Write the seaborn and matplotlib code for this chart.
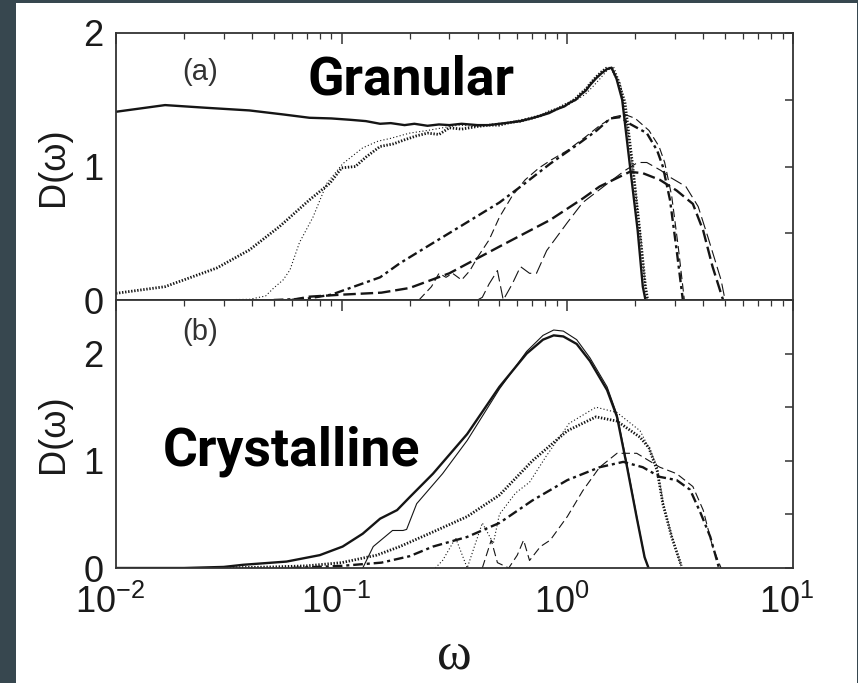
import matplotlib
matplotlib.use("Agg")
import matplotlib.pyplot as plt
from matplotlib.patches import Rectangle
from matplotlib.ticker import FixedLocator, FixedFormatter
from matplotlib.transforms import ScaledTranslation
import seaborn as sns

# ---------------- data: D(omega) curves ----------------
# (a) granular packing
g_solid_w = [0.010, 0.0165, 0.025, 0.039, 0.055, 0.072, 0.090, 0.109, 0.128, 0.148, 0.165, 0.19, 0.21,
             0.24, 0.27, 0.30, 0.34, 0.40, 0.45, 0.50, 0.56, 0.62, 0.69, 0.76, 0.83, 0.90, 0.97, 1.03,
             1.09, 1.15, 1.21, 1.26, 1.34, 1.42, 1.50, 1.57, 1.65, 1.75, 1.89, 2.05, 2.16, 2.22]
g_solid_d = [1.41, 1.46, 1.44, 1.42, 1.39, 1.365, 1.36, 1.35, 1.34, 1.32, 1.325, 1.31, 1.32,
             1.305, 1.315, 1.31, 1.32, 1.31, 1.31, 1.32, 1.33, 1.34, 1.36, 1.38, 1.40, 1.43, 1.45, 1.48,
             1.50, 1.54, 1.57, 1.61, 1.66, 1.70, 1.73, 1.74, 1.66, 1.50, 1.02, 0.52, 0.10, 0.0]

g_dot_w = [0.010, 0.0165, 0.028, 0.039, 0.053, 0.072, 0.0887, 0.100, 0.115, 0.128, 0.148, 0.17, 0.19,
           0.215, 0.24, 0.27, 0.30, 0.34, 0.40, 0.45, 0.50, 0.56, 0.62, 0.69, 0.76, 0.83, 0.90, 0.97,
           1.03, 1.09, 1.15, 1.21, 1.26, 1.34, 1.42, 1.50, 1.58, 1.68, 1.80, 1.95, 2.10, 2.22, 2.27]
g_dot_d = [0.05, 0.10, 0.24, 0.375, 0.55, 0.75, 0.875, 0.99, 1.0, 1.07, 1.15, 1.17, 1.20,
           1.23, 1.25, 1.24, 1.29, 1.28, 1.30, 1.31, 1.31, 1.33, 1.34, 1.36, 1.38, 1.41, 1.43, 1.46,
           1.48, 1.51, 1.55, 1.58, 1.62, 1.67, 1.71, 1.74, 1.73, 1.64, 1.48, 1.0, 0.5, 0.1, 0.0]

g_dott_w = [0.025, 0.039, 0.046, 0.050, 0.055, 0.059, 0.065, 0.0746, 0.086, 0.101, 0.124, 0.145, 0.164,
            0.20, 0.24, 0.28, 0.33, 0.40, 0.47, 0.55, 0.62, 0.70, 0.80, 0.90, 1.0, 1.1, 1.2, 1.3, 1.4,
            1.5, 1.6, 1.72, 1.84, 1.98, 2.12, 2.22, 2.27]
g_dott_d = [0.0, 0.005, 0.03, 0.09, 0.15, 0.225, 0.43, 0.62, 0.875, 1.02, 1.14, 1.19, 1.21,
            1.25, 1.27, 1.29, 1.31, 1.30, 1.32, 1.33, 1.35, 1.37, 1.40, 1.43, 1.46, 1.50, 1.54, 1.60, 1.66,
            1.72, 1.75, 1.62, 1.30, 0.90, 0.45, 0.08, 0.0]

g_dd_w = [0.05, 0.07, 0.09, 0.109, 0.148, 0.181, 0.25, 0.35, 0.50, 0.65, 0.838, 1.1, 1.35, 1.55, 1.72,
          1.89, 2.25, 2.5, 2.65, 2.85, 3.05, 3.25]
g_dd_d = [0.0, 0.01, 0.04, 0.09, 0.17, 0.275, 0.42, 0.57, 0.73, 0.875, 1.02, 1.16, 1.27, 1.36, 1.37,
          1.32, 1.25, 1.12, 1.0, 0.75, 0.375, 0.0]

g_ddt_w = [0.22, 0.25, 0.27, 0.29, 0.31, 0.34, 0.37, 0.40, 0.45, 0.50, 0.57, 0.65, 0.75, 0.85, 1.0,
           1.2, 1.4, 1.6, 1.8, 2.0, 2.3, 2.55, 2.7, 2.9, 3.1, 3.3]
g_ddt_d = [0.0, 0.1, 0.2, 0.17, 0.2, 0.15, 0.22, 0.32, 0.45, 0.62, 0.78, 0.9, 0.99, 1.05, 1.12,
           1.22, 1.31, 1.37, 1.39, 1.36, 1.27, 1.15, 1.03, 0.78, 0.4, 0.0]

g_ld_w = [0.06, 0.072, 0.1, 0.15, 0.20, 0.30, 0.50, 0.84, 1.17, 1.39, 1.89, 2.16, 2.57, 3.05, 3.6,
          4.0, 4.4, 4.9]
g_ld_d = [0.0, 0.025, 0.04, 0.055, 0.09, 0.2, 0.40, 0.6, 0.76, 0.85, 0.96, 0.95, 0.90, 0.82, 0.72,
          0.52, 0.25, 0.0]

g_ldt_w = [0.40, 0.42, 0.45, 0.49, 0.52, 0.57, 0.62, 0.68, 0.73, 0.81, 1.0, 1.17, 1.5, 1.8, 2.05,
           2.25, 2.6, 2.85, 3.35, 3.8, 4.2, 4.8, 5.0]
g_ldt_d = [0.0, 0.02, 0.12, 0.22, 0.0, 0.12, 0.25, 0.2, 0.2, 0.37, 0.58, 0.73, 0.87, 0.97, 1.03,
           1.03, 0.97, 0.92, 0.85, 0.70, 0.47, 0.15, 0.0]

# (b) crystalline packing
c_solid_w = [0.01, 0.02, 0.03, 0.0366, 0.057, 0.08, 0.101, 0.124, 0.148, 0.176, 0.20, 0.254, 0.36,
             0.50, 0.66, 0.78, 0.87, 0.96, 1.10, 1.26, 1.50, 1.66, 1.84, 2.03, 2.20, 2.29]
c_solid_d = [0.0, 0.0, 0.01, 0.03, 0.06, 0.12, 0.2, 0.32, 0.46, 0.54, 0.66, 0.88, 1.25,
             1.69, 2.0, 2.13, 2.17, 2.16, 2.09, 1.93, 1.66, 1.41, 0.94, 0.47, 0.1, 0.0]

c_solidt_w = [0.124, 0.138, 0.168, 0.187, 0.194, 0.215, 0.28, 0.36, 0.50, 0.66, 0.78, 0.87, 0.96,
              1.10, 1.26, 1.50, 1.66, 1.84, 2.03, 2.20, 2.29]
c_solidt_d = [0.0, 0.2, 0.35, 0.35, 0.36, 0.6, 0.88, 1.19, 1.67, 2.02, 2.17, 2.22, 2.21,
              2.13, 1.96, 1.69, 1.43, 0.96, 0.48, 0.1, 0.0]

c_dot_w = [0.03, 0.05, 0.07, 0.10, 0.143, 0.181, 0.25, 0.36, 0.50, 0.70, 1.0, 1.34, 1.66, 2.1,
           2.3, 2.5, 2.65, 2.9, 3.2]
c_dot_d = [0.0, 0.01, 0.02, 0.05, 0.12, 0.2, 0.33, 0.48, 0.68, 1.0, 1.28, 1.41, 1.37, 1.22,
           1.12, 0.91, 0.6, 0.29, 0.02]

c_dott_w = [0.26, 0.28, 0.32, 0.36, 0.42, 0.47, 0.50, 0.59, 0.68, 0.81, 1.02, 1.34, 1.66, 2.1,
            2.3, 2.5, 2.65, 2.9, 3.2]
c_dott_d = [0.0, 0.07, 0.28, 0.0, 0.42, 0.23, 0.5, 0.7, 0.8, 1.05, 1.35, 1.5, 1.45, 1.28,
            1.12, 0.95, 0.62, 0.3, 0.02]

c_dd_w = [0.06, 0.1, 0.15, 0.2, 0.254, 0.36, 0.50, 0.70, 1.0, 1.39, 1.77, 2.16, 2.57, 3.05, 3.5,
          3.9, 4.3, 4.7]
c_dd_d = [0.0, 0.02, 0.05, 0.11, 0.2, 0.29, 0.42, 0.63, 0.82, 0.94, 0.99, 0.94, 0.85, 0.82, 0.73,
          0.51, 0.29, 0.0]

c_ddt_w = [0.42, 0.46, 0.49, 0.55, 0.60, 0.64, 0.68, 0.76, 0.84, 1.0, 1.17, 1.39, 1.66, 2.03,
           2.57, 3.05, 3.6, 4.0, 4.4, 4.8]
c_ddt_d = [0.0, 0.26, 0.05, 0.0, 0.12, 0.26, 0.07, 0.2, 0.26, 0.48, 0.72, 0.94, 1.07, 1.07,
           0.94, 0.88, 0.76, 0.54, 0.2, 0.0]

x_ticks = [1e-2, 1e-1, 1e0, 1e1]
y_ticks_a = [0, 0.5, 1, 1.5, 2]
y_labels_a = ["0", "", "1", "", "2"]
y_ticks_b = [0, 0.5, 1, 1.5, 2, 2.5]
y_labels_b = ["0", "", "1", "", "2", ""]

# ---------------- styling ----------------
sns.set_theme(style="white")
plt.rcParams["font.family"] = ["Liberation Sans", "DejaVu Sans"]
plt.rcParams["lines.scale_dashes"] = False
plt.rcParams["axes.linewidth"] = 1.3
plt.rcParams["axes.edgecolor"] = "#333333"

INK = "#151515"
THICK, THIN = 1.7, 0.8
SOLID = "-"
DOT_THICK = (0, (1.0, 1.2))
DOT_THIN = (0, (0.8, 1.6))
DASHDOT = (0, (7.0, 2.8, 2.2, 2.8))
DASHDOT_THIN = (0, (6.0, 3.0))
LONGDASH = (0, (9.0, 3.5))
TICK_FS = 26

fig = plt.figure(figsize=(8.58, 6.83), dpi=100)
fig.patch.set_facecolor("#37474f")
fig.add_artist(Rectangle((16 / 858, 0), 841 / 858, 680 / 683, transform=fig.transFigure,
                         facecolor="white", edgecolor="none", zorder=-5))

L, W = 116 / 858, 677 / 858
ax_a = fig.add_axes([L, 383 / 683, W, 267 / 683])
ax_b = fig.add_axes([L, 115 / 683, W, 268 / 683], sharex=ax_a)


def draw(ax, w, d, lw, ls):
    sns.lineplot(x=w, y=d, ax=ax, color=INK, linewidth=lw, linestyle=ls,
                 estimator=None, sort=False, legend=False)


# (a)
draw(ax_a, g_ldt_w, g_ldt_d, THIN, LONGDASH)
draw(ax_a, g_ld_w, g_ld_d, THICK, LONGDASH)
draw(ax_a, g_ddt_w, g_ddt_d, THIN, DASHDOT_THIN)
draw(ax_a, g_dd_w, g_dd_d, THICK, DASHDOT)
draw(ax_a, g_dott_w, g_dott_d, THIN, DOT_THIN)
draw(ax_a, g_dot_w, g_dot_d, 2.0, DOT_THICK)
draw(ax_a, g_solid_w, g_solid_d, THICK, SOLID)

# (b)
draw(ax_b, c_ddt_w, c_ddt_d, THIN, DASHDOT_THIN)
draw(ax_b, c_dd_w, c_dd_d, THICK, DASHDOT)
draw(ax_b, c_dott_w, c_dott_d, THIN, DOT_THIN)
draw(ax_b, c_dot_w, c_dot_d, 2.0, DOT_THICK)
draw(ax_b, c_solidt_w, c_solidt_d, THIN, SOLID)
draw(ax_b, c_solid_w, c_solid_d, THICK, SOLID)

for ax, yt, yl, ylim in ((ax_a, y_ticks_a, y_labels_a, (0, 2)),
                         (ax_b, y_ticks_b, y_labels_b, (0, 2.5))):
    ax.set_facecolor("white")
    ax.set_xscale("log")
    ax.set_xlim(1e-2, 1e1)
    ax.set_ylim(*ylim)
    ax.yaxis.set_major_locator(FixedLocator(yt))
    ax.yaxis.set_major_formatter(FixedFormatter(yl))
    ax.tick_params(axis="both", which="both", direction="in", top=True, right=True,
                   colors="#333333", labelcolor="#1a1a1a")
    ax.tick_params(axis="x", which="major", length=8, width=1.1, labelsize=TICK_FS, pad=12)
    ax.tick_params(axis="x", which="minor", length=4.5, width=0.9)
    ax.tick_params(axis="y", which="major", length=5.5, width=1.1, labelsize=TICK_FS, pad=9)
    ax.set_ylabel("D(ω)", fontsize=26, color="#1a1a1a")
    ax.yaxis.set_label_coords(-0.066, 0.5)
    for s in ax.spines.values():
        s.set_visible(True)

ax_a.set_xticks(x_ticks)
ax_a.tick_params(axis="x", labelbottom=False)
ax_b.set_xlabel("ω", fontsize=38, family=["Liberation Serif", "DejaVu Serif"], labelpad=8,
                color="#1a1a1a")

# nudge the decade labels slightly left
shift = ScaledTranslation(-6 / 100, 0, fig.dpi_scale_trans)
for lab in ax_b.get_xticklabels():
    lab.set_transform(lab.get_transform() + shift)

ax_a.text(0.124, 0.854, "(a)", transform=ax_a.transAxes, ha="center", va="center",
          fontsize=21, color="#333333")
ax_b.text(0.124, 0.88, "(b)", transform=ax_b.transAxes, ha="center", va="center",
          fontsize=21, color="#333333")

ax_a.text(0.2836, 0.768, "Granular", transform=ax_a.transAxes, ha="left", va="baseline",
          fontsize=38.5, fontweight="bold", family=["Roboto", "DejaVu Sans"], color="black")
ax_b.text(0.0694, 0.384, "Crystalline", transform=ax_b.transAxes, ha="left", va="baseline",
          fontsize=38.5, fontweight="bold", family=["Roboto", "DejaVu Sans"], color="black")

fig.savefig("out.png", dpi=100, facecolor=fig.get_facecolor())
